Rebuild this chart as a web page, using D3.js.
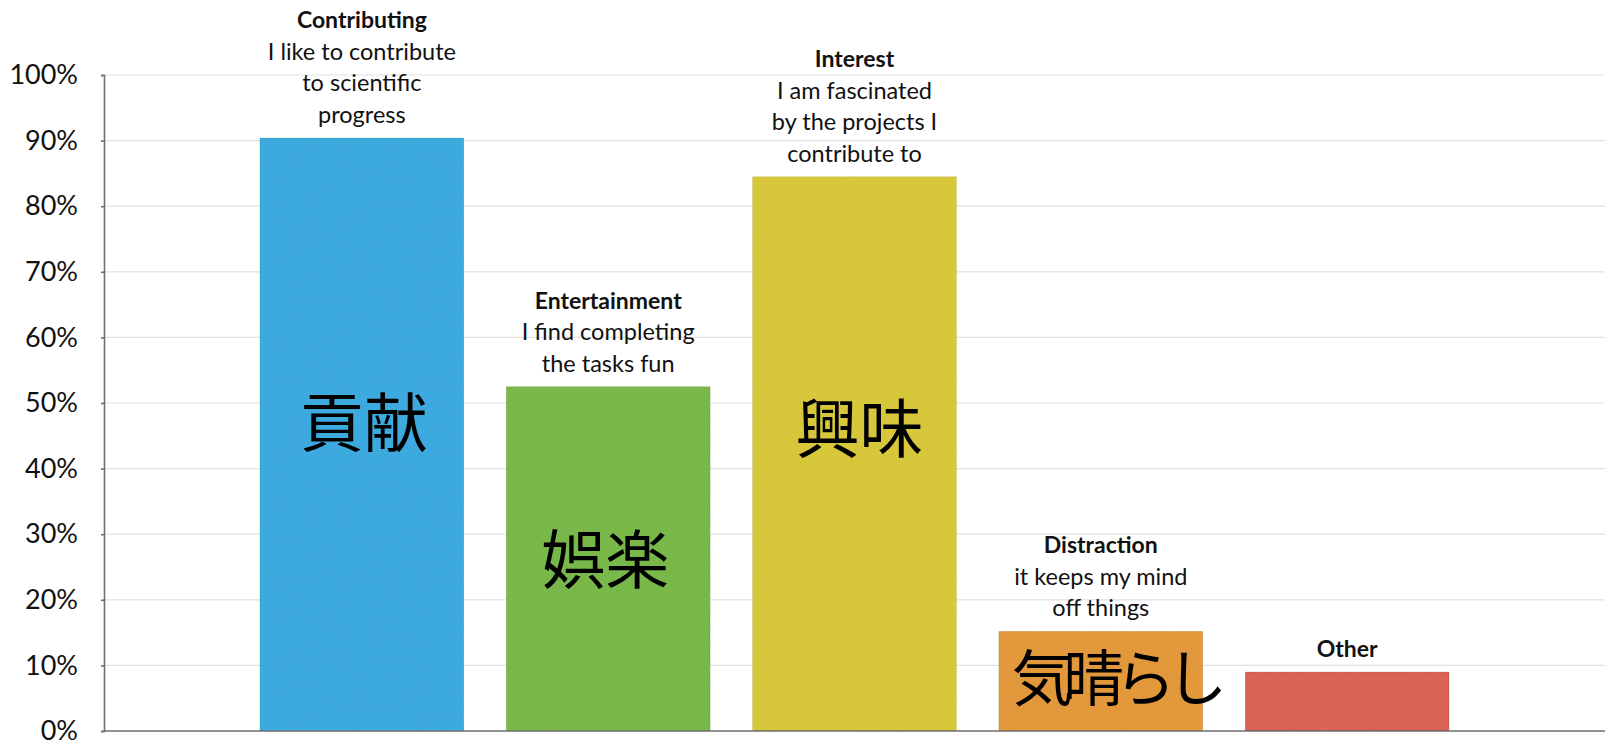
<!DOCTYPE html>
<html>
<head>
<meta charset="utf-8">
<script src="https://cdn.jsdelivr.net/npm/d3@7"></script>
<style>
  body { margin: 0; background: #fff; }
  text { font-family: Lato, "Open Sans", sans-serif; }
</style>
</head>
<body>
<div id="bar"></div>
<script>
// data
var categories = ["Contributing", "Entertainment", "Interest", "Distraction", "Other"];
var values = [0.904, 0.525, 0.845, 0.152, 0.09];
var descriptions = [
  ["I like to contribute", "to scientific", "progress"],
  ["I find completing", "the tasks fun"],
  ["I am fascinated", "by the projects I", "contribute to"],
  ["it keeps my mind", "off things"],
  []
];
var jpLabels = ["貢献", "娯楽", "興味", "気晴らし", ""];
var jpLabelAt = [0.47, 0.26, 0.46, 0.079, 0];   // vertical centre of the big label, in data units
var colors = ["#3fade3", "#7cbb4b", "#dccb3c", "#e69b3e", "#de6558"];
var yTicks = [0, 0.1, 0.2, 0.3, 0.4, 0.5, 0.6, 0.7, 0.8, 0.9, 1.0];

var W = 1608, H = 743;
var margin = {top: 75, right: 3, bottom: 12, left: 104};
var width = W - margin.left - margin.right,
    height = H - margin.top - margin.bottom;

var svg = d3.select("#bar")
  .append("svg")
    .attr("width", W)
    .attr("height", H)
  .append("g")
    .attr("transform", "translate(" + margin.left + "," + margin.top + ")");

// a little paper grain on the bars
var defs = svg.append("defs");
var f = defs.append("filter").attr("id", "grain").attr("x", 0).attr("y", 0).attr("width", 1).attr("height", 1);
f.append("feTurbulence").attr("type", "fractalNoise").attr("baseFrequency", 0.9).attr("numOctaves", 2).attr("result", "n");
f.append("feColorMatrix").attr("in", "n").attr("type", "matrix")
  .attr("values", "0 0 0 0 0  0 0 0 0 0  0 0 0 0 0  0 0 0 0.08 0").attr("result", "a");
f.append("feComposite").attr("in", "a").attr("in2", "SourceGraphic").attr("operator", "in").attr("result", "b");
var m = f.append("feMerge");
m.append("feMergeNode").attr("in", "SourceGraphic");
m.append("feMergeNode").attr("in", "b");

var x = d3.scaleBand()
  .domain(categories)
  .range([0, width])
  .paddingInner(0.172)
  .paddingOuter(0.633);

var y = d3.scaleLinear()
  .domain([0, 1])
  .range([height, 0]);

// gridlines
svg.append("g")
  .selectAll("line")
  .data(yTicks.slice(1))
  .enter().append("line")
    .attr("x1", 0)
    .attr("x2", width)
    .attr("y1", function(d) { return y(d); })
    .attr("y2", function(d) { return y(d); })
    .style("stroke", "#e2e2e2")
    .style("stroke-width", 1.2);

// y axis
var yAxis = svg.append("g")
  .call(d3.axisLeft(y).tickValues(yTicks).tickFormat(d3.format(".0%")).tickSize(3).tickPadding(23));
yAxis.select(".domain").style("stroke", "#6e6e6e").style("stroke-width", 1.6);
yAxis.selectAll(".tick line").style("stroke", "#6e6e6e").style("stroke-width", 1.6);
yAxis.selectAll("text")
  .style("font-family", "Lato, sans-serif")
  .style("font-size", "27px")
  .style("fill", "#111");

// bars
svg.selectAll("myBar")
  .data(categories)
  .enter().append("rect")
    .attr("x", function(d) { return x(d); })
    .attr("y", function(d, i) { return y(values[i]); })
    .attr("width", x.bandwidth())
    .attr("height", function(d, i) { return height - y(values[i]); })
    .attr("fill", function(d, i) { return colors[i]; })
    .style("stroke", "rgba(0,0,0,0.07)")
    .style("stroke-width", 1)
    .attr("filter", "url(#grain)");

// baseline
svg.append("line")
  .attr("x1", 0).attr("x2", width)
  .attr("y1", height).attr("y2", height)
  .style("stroke", "#6e6e6e")
  .style("stroke-width", 1.6);

// labels above bars
var lineH = 31.5;
categories.forEach(function(c, i) {
  var cx = x(c) + x.bandwidth() / 2;
  var lines = descriptions[i];
  var base = y(values[i]) - 15;
  var t = svg.append("text")
    .attr("text-anchor", "middle")
    .style("fill", "#111");
  t.append("tspan")
    .attr("x", cx)
    .attr("y", base - lines.length * lineH)
    .style("font-weight", "bold")
    .style("font-size", "23px")
    .text(c);
  lines.forEach(function(l, j) {
    t.append("tspan")
      .attr("x", cx)
      .attr("y", base - (lines.length - 1 - j) * lineH)
      .style("font-size", "23.5px")
      .text(l);
  });
});

// big Japanese labels (the Distraction one spills past its bar)
var jpShift = [2, -3, 5, 14, 0];
svg.selectAll("myJp")
  .data(jpLabels)
  .enter().append("text")
    .attr("x", function(d, i) { return x(categories[i]) + x.bandwidth() / 2 + jpShift[i]; })
    .attr("y", function(d, i) { return y(jpLabelAt[i]); })
    .attr("dy", "0.36em")
    .attr("text-anchor", "middle")
    .style("font-family", "'Noto Sans CJK JP', sans-serif")
    .style("font-size", function(d, i) { return i == 3 ? "61px" : "64px"; })
    .style("letter-spacing", function(d, i) { return i == 3 ? "-9.5px" : "0px"; })
    .style("fill", "#000")
    .text(function(d) { return d; });
</script>
</body>
</html>
